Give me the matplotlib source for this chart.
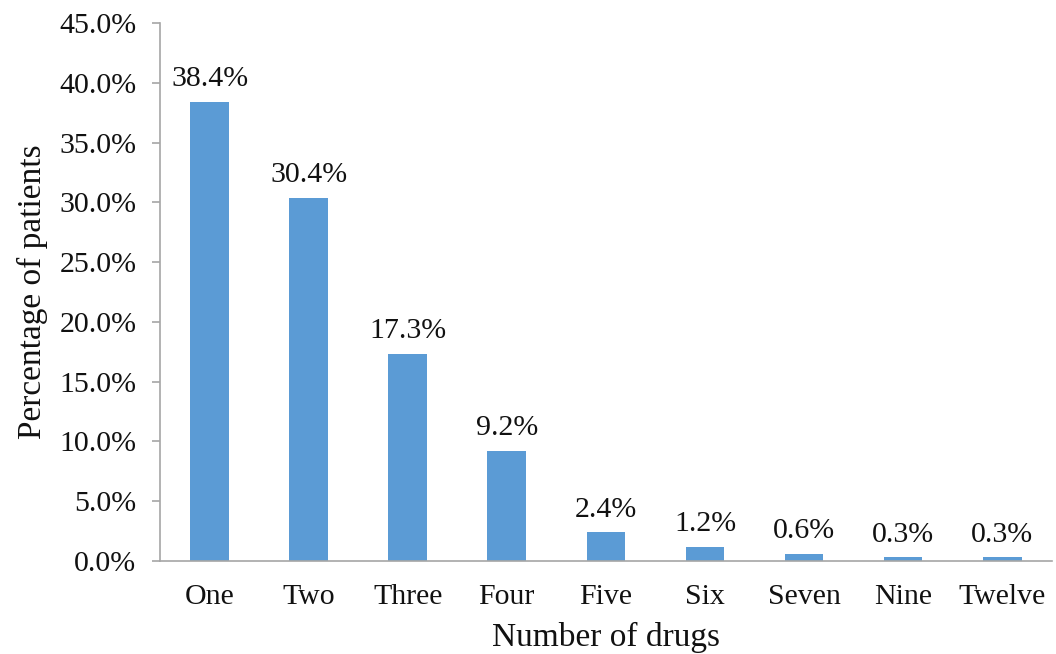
import matplotlib
matplotlib.use("Agg")
import matplotlib.pyplot as plt
from matplotlib.ticker import FuncFormatter, MultipleLocator

categories = ["One", "Two", "Three", "Four", "Five", "Six", "Seven", "Nine", "Twelve"]
percentages = [38.4, 30.4, 17.3, 9.2, 2.4, 1.2, 0.6, 0.3, 0.3]

plt.rcParams["font.family"] = ["Liberation Serif", "DejaVu Serif"]

fig = plt.figure(figsize=(10.56, 6.54), dpi=100)
ax = fig.add_axes([0.1515, 0.1422, 0.8445, 0.8226])

x = range(len(categories))
ax.bar(x, percentages, width=0.39, color="#5B9BD5", zorder=2)

for xi, v in zip(x, percentages):
    ax.annotate(f"{v:.1f}%", (xi, v), xytext=(0, 7), textcoords="offset points",
                ha="center", va="bottom", fontsize=21.5, color="#111111")

ax.set_xlim(-0.5, len(categories) - 0.5)
ax.set_ylim(0, 45)
ax.yaxis.set_major_locator(MultipleLocator(5))
ax.yaxis.set_major_formatter(FuncFormatter(lambda v, p: f"{v:.1f}%"))
ax.set_xticks(list(x))
ax.set_xticklabels(categories)

for side in ("top", "right"):
    ax.spines[side].set_visible(False)
for side in ("left", "bottom"):
    ax.spines[side].set_color("#a6a6a6")
    ax.spines[side].set_linewidth(1.2)

ax.tick_params(axis="y", length=6, width=1.2, color="#a6a6a6", labelsize=21.5,
               labelcolor="#111111", pad=11)
ax.tick_params(axis="x", length=0, labelsize=21.5, labelcolor="#111111", pad=16.5)

ax.set_xlabel("Number of drugs", fontsize=24, color="#111111", labelpad=9)
ax.set_ylabel("Percentage of patients", fontsize=24, color="#111111", labelpad=8)

fig.savefig("out.png", dpi=100)
